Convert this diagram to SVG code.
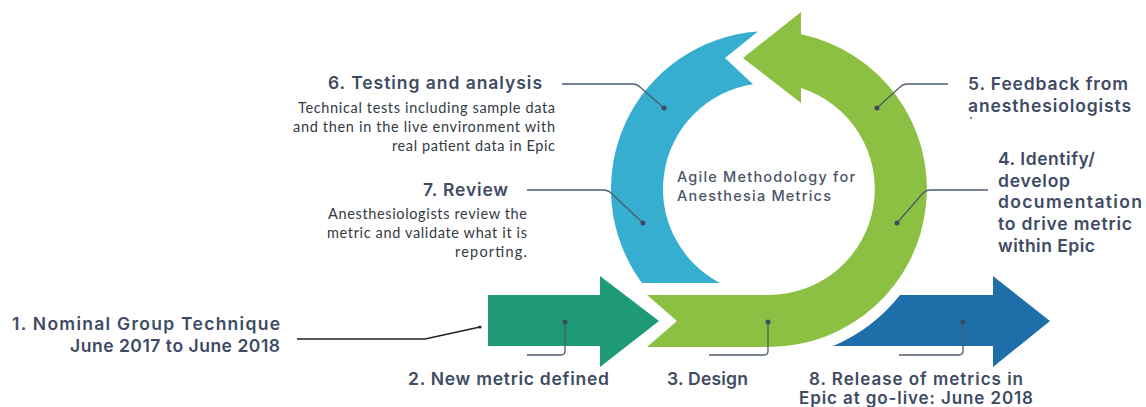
<svg xmlns="http://www.w3.org/2000/svg" width="1146" height="407" viewBox="0 0 1146 407">
  <style>
    .head { font-family: Inter, "Liberation Sans", sans-serif; font-weight: 600; font-size: 17.5px; fill: #3e4b63; }
    .desc { font-family: Lato, "Liberation Sans", sans-serif; font-size: 14.5px; fill: #333a44; }
    .center { font-family: Inter, "Liberation Sans", sans-serif; font-weight: 500; font-size: 14.5px; fill: #4a5468; }
    .leader { fill: none; stroke: #4f5b6e; stroke-width: 1.3; }
    .dot { fill: #3f4a5c; }
  </style>
  <rect width="1146" height="407" fill="#ffffff"/>

  <!-- cycle shapes -->
  <g id="new-metric-arrow">
    <path d="M488,295 L600,295 L600,276 L659,321 L600,367 L600,346 L488,346 Z" fill="#1e9a77"/>
  </g>
  <g id="testing-review-arc">
    <path d="M642,283 A158,158 0 0 1 758,31.4 L725,58 L753,84.2 A106,106 0 0 0 720,283 Z" fill="#36aed0"/>
  </g>
  <g id="design-feedback-arc">
    <path d="M743,58 L801,12 L801,34.3 A158,158 0 0 1 769,347 L647,347 L677,321 L647,295 L769,295 A106,106 0 0 0 801,88 L801,103 Z" fill="#8cc043"/>
  </g>
  <g id="release-arrow">
    <path d="M833,346 L993,346 L993,367 L1050,321 L993,276 L993,295 L900,295 A169,169 0 0 1 833,346 Z" fill="#1e6ea9"/>
  </g>

  <g id="center-title">
    <text class="center" x="677" y="182" textLength="178">Agile Methodology for</text>
    <text class="center" x="677" y="201" textLength="154">Anesthesia Metrics</text>
  </g>

  <!-- leader lines -->
  <g id="connectors">
    <path class="leader" d="M297,339 H425 L480,327" style="stroke:#222222;stroke-width:1.6"/>
    <circle cx="480" cy="327" r="1.6" fill="#222222"/>
    <path class="leader" d="M527,355 H561 Q565,355 565,351 V322"/>
    <circle class="dot" cx="565" cy="322" r="2.5"/>
    <path class="leader" d="M709,355 H764 Q768,355 768,351 V322"/>
    <circle class="dot" cx="768" cy="322" r="2.5"/>
    <path class="leader" d="M899,355 H959 Q963,355 963,351 V322"/>
    <circle class="dot" cx="963" cy="322" r="2.5"/>
    <path class="leader" d="M988,190 H930 Q926,190 923,193 L897,223"/>
    <circle class="dot" cx="897" cy="223" r="2.5"/>
    <path class="leader" d="M948,84 H907 Q903,84 900,87 L877,108"/>
    <circle class="dot" cx="877" cy="108" r="2.5"/>
    <path class="leader" d="M562,84 H633 Q637,84 640,87 L664,108"/>
    <circle class="dot" cx="664" cy="108" r="2.5"/>
    <path class="leader" d="M527,190 H603 Q608,190 611,193 L643,223"/>
    <circle class="dot" cx="643" cy="223" r="2.5"/>
  </g>

  <g id="step-1">
    <text class="head" x="12" y="330" textLength="268">1.  Nominal Group Technique</text>
    <text class="head" x="280" y="352" text-anchor="end" textLength="210">June 2017 to June 2018</text>
  </g>
  <g id="step-2">
    <text class="head" x="408" y="385" textLength="201">2. New metric defined</text>
  </g>
  <g id="step-3">
    <text class="head" x="667" y="385" textLength="81">3. Design</text>
  </g>
  <g id="step-4">
    <text class="head" x="998" y="165" textLength="97">4. Identify/</text>
    <text class="head" x="998" y="187" textLength="72">develop</text>
    <text class="head" x="998" y="208" textLength="144">documentation</text>
    <text class="head" x="998" y="230" textLength="134">to drive metric</text>
    <text class="head" x="998" y="252" textLength="97">within Epic</text>
  </g>
  <g id="step-5">
    <text class="head" x="968" y="90" textLength="160">5. Feedback from</text>
    <text class="head" x="968" y="112" textLength="163">anesthesiologists</text>
    <circle cx="971" cy="118" r="0.9" fill="#3e4b63"/>
  </g>
  <g id="step-6">
    <text class="head" x="542" y="89" text-anchor="end" textLength="214">6. Testing and analysis</text>
    <text class="desc" x="555" y="113" text-anchor="end" textLength="257">Technical tests including sample data</text>
    <text class="desc" x="555" y="132" text-anchor="end" textLength="262">and then in the live environment with</text>
    <text class="desc" x="555" y="151" text-anchor="end" textLength="163">real patient data in Epic</text>
  </g>
  <g id="step-7">
    <text class="head" x="508" y="196" text-anchor="end" textLength="85">7. Review</text>
    <text class="desc" x="527" y="219" text-anchor="end" textLength="199">Anesthesiologists review the</text>
    <text class="desc" x="527" y="238" text-anchor="end" textLength="200">metric and validate what it is</text>
    <text class="desc" x="527" y="257" text-anchor="end" textLength="72">reporting.</text>
  </g>
  <g id="step-8" style="font-size:17px">
    <text class="head" x="916" y="385" text-anchor="middle" textLength="214" style="font-size:17px">8. Release of metrics in</text>
    <text class="head" x="916" y="404" text-anchor="middle" textLength="234" style="font-size:17px">Epic at go-live: June 2018</text>
  </g>
</svg>
